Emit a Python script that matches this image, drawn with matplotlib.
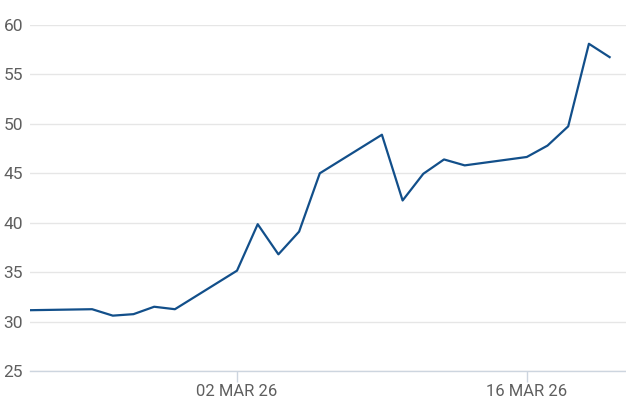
import matplotlib.pyplot as plt
import pandas as pd

# trading days and values
dates = pd.to_datetime([
    "2026-02-20", "2026-02-23", "2026-02-24", "2026-02-25", "2026-02-26", "2026-02-27",
    "2026-03-02", "2026-03-03", "2026-03-04", "2026-03-05", "2026-03-06",
    "2026-03-09", "2026-03-10", "2026-03-11", "2026-03-12", "2026-03-13",
    "2026-03-16", "2026-03-17", "2026-03-18", "2026-03-19", "2026-03-20",
])
values = [
    31.15, 31.25, 30.6, 30.75, 31.5, 31.25,
    35.15, 39.85, 36.8, 39.1, 45.0,
    48.9, 42.25, 44.95, 46.4, 45.8,
    46.65, 47.8, 49.75, 58.1, 56.75,
]
y_ticks = [25, 30, 35, 40, 45, 50, 55, 60]
x_ticks = pd.to_datetime(["2026-03-02", "2026-03-16"])
x_tick_labels = ["02 MAR 26", "16 MAR 26"]

text_color = "#5f5f5f"
line_color = "#124f8a"

plt.rcParams['font.family'] = ['Roboto', 'DejaVu Sans']

fig = plt.figure(figsize=(6.26, 4.17), dpi=100)
ax = fig.add_axes([30 / 626, 46 / 417, 596 / 626, 346 / 417])

ax.plot(dates, values, color=line_color, linewidth=1.6)

ax.set_ylim(25, 60)
ax.set_xlim(pd.Timestamp("2026-02-20"),
            pd.Timestamp("2026-03-20") + pd.Timedelta(hours=19))

ax.set_yticks(y_ticks)
ax.yaxis.grid(True, color="#e6e6e6", linewidth=1)
ax.set_axisbelow(True)
ax.tick_params(axis='y', length=0, pad=5, labelsize=12.5, labelcolor=text_color)

ax.set_xticks(x_ticks)
ax.set_xticklabels(x_tick_labels)
ax.tick_params(axis='x', length=8, width=1, color="#cdd5df", pad=1,
               labelsize=12, labelcolor=text_color)

for side in ['top', 'right', 'left']:
    ax.spines[side].set_visible(False)
ax.spines['bottom'].set_color("#cdd5df")
ax.spines['bottom'].set_linewidth(1)

fig.savefig("out.png", dpi=100, facecolor="white")
